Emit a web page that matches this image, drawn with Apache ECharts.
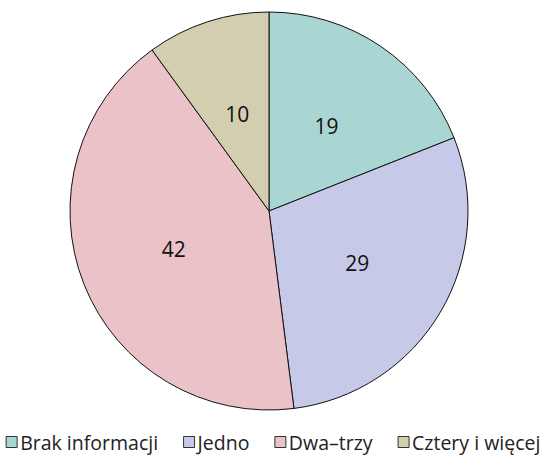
<!DOCTYPE html>
<html>
<head>
<meta charset="utf-8">
<script src="https://cdn.jsdelivr.net/npm/echarts@6/dist/echarts.min.js"></script>
<style>
  html, body { margin: 0; padding: 0; background: #fff; }
  #chart { width: 546px; height: 465px; }
</style>
</head>
<body>
<div id="chart"></div>
<script>
// data
var categories = ['Brak informacji', 'Jedno', 'Dwa\u2013trzy', 'Cztery i więcej'];
var values = [19, 29, 42, 10];
var colors = ['#a9d5d2', '#c6cae8', '#eac2c8', '#d3ceb0'];

var chart = echarts.init(document.getElementById('chart'), null, { renderer: 'svg' });

var option = {
  animation: false,
  color: colors,
  textStyle: { fontFamily: 'Open Sans' },
  legend: {
    bottom: 8,
    left: 'center',
    itemWidth: 11,
    itemHeight: 11,
    itemGap: 25,
    icon: 'rect',
    itemStyle: { borderColor: '#333', borderWidth: 1 },
    textStyle: { fontSize: 19.5, color: '#222', padding: [0, 0, 0, -2] },
    data: categories
  },
  series: [{
    type: 'pie',
    center: [269, 211],
    radius: 199,
    startAngle: 90,
    clockwise: true,
    label: {
      position: 'inside',
      formatter: '{c}',
      fontSize: 21,
      color: '#111'
    },
    labelLine: { show: false },
    itemStyle: { borderColor: '#111', borderWidth: 1 },
    emphasis: { disabled: true },
    data: categories.map(function (c, i) { return { name: c, value: values[i] }; })
  }]
};
chart.setOption(option);
</script>
</body>
</html>
